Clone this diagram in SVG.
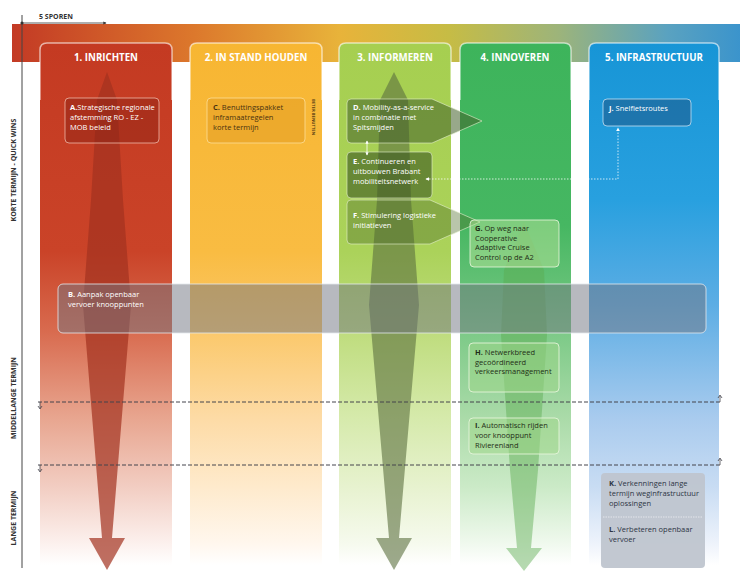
<svg xmlns="http://www.w3.org/2000/svg" width="740" height="572" viewBox="0 0 740 572">
<style>
.hdr{font-family:"Open Sans","Liberation Sans",sans-serif;font-weight:700;font-size:9.7px;fill:#fff;text-anchor:middle}
.t{font-family:"Open Sans","Liberation Sans",sans-serif;font-size:7.5px}
.w{fill:#fff}
.dk{fill:#1f2d16}
.br{fill:#4a3210}
.nv{fill:#2c3544}
.b{font-weight:700}
.ax{font-family:"Open Sans","Liberation Sans",sans-serif;font-weight:700;font-size:7px;fill:#333}
.hline{fill:none;stroke:#fff;stroke-opacity:0.6;stroke-width:1.5}
.div{stroke:#44444c;stroke-width:1;stroke-dasharray:4 2;fill:none}
</style>
<defs>
<linearGradient id="band" x1="12" y1="0" x2="740" y2="0" gradientUnits="userSpaceOnUse">
<stop offset="0" stop-color="#c33a25"/><stop offset="0.25" stop-color="#dc782c"/><stop offset="0.45" stop-color="#e8b33a"/><stop offset="0.6" stop-color="#c6bc45"/><stop offset="0.75" stop-color="#9db47a"/><stop offset="0.9" stop-color="#5aa2c0"/><stop offset="1" stop-color="#3b94cc"/>
</linearGradient>
<linearGradient id="g1" x1="0" y1="43" x2="0" y2="565" gradientUnits="userSpaceOnUse">
<stop offset="0" stop-color="#c43a22"/><stop offset="0.4" stop-color="#ca4328"/><stop offset="0.55" stop-color="#d86a4e"/><stop offset="0.72" stop-color="#e8a690"/><stop offset="0.85" stop-color="#f2cdc2"/><stop offset="0.96" stop-color="#fcf1ee"/><stop offset="1" stop-color="#fff"/>
</linearGradient>
<linearGradient id="g2" x1="0" y1="43" x2="0" y2="565" gradientUnits="userSpaceOnUse">
<stop offset="0" stop-color="#f7b632"/><stop offset="0.4" stop-color="#f9bc42"/><stop offset="0.55" stop-color="#fbc86a"/><stop offset="0.72" stop-color="#fddba6"/><stop offset="0.85" stop-color="#feeacc"/><stop offset="0.96" stop-color="#fff7ee"/><stop offset="1" stop-color="#fff"/>
</linearGradient>
<linearGradient id="g3" x1="0" y1="43" x2="0" y2="565" gradientUnits="userSpaceOnUse">
<stop offset="0" stop-color="#a6cf50"/><stop offset="0.4" stop-color="#abd25a"/><stop offset="0.55" stop-color="#bedc7c"/><stop offset="0.72" stop-color="#d6eaac"/><stop offset="0.85" stop-color="#e7f2cf"/><stop offset="0.96" stop-color="#f6faee"/><stop offset="1" stop-color="#fff"/>
</linearGradient>
<linearGradient id="g4" x1="0" y1="43" x2="0" y2="565" gradientUnits="userSpaceOnUse">
<stop offset="0" stop-color="#3db45b"/><stop offset="0.35" stop-color="#46b762"/><stop offset="0.5" stop-color="#6dc47c"/><stop offset="0.72" stop-color="#abdba9"/><stop offset="0.85" stop-color="#cbeac7"/><stop offset="0.96" stop-color="#f0f9ee"/><stop offset="1" stop-color="#fff"/>
</linearGradient>
<linearGradient id="g5" x1="0" y1="43" x2="0" y2="565" gradientUnits="userSpaceOnUse">
<stop offset="0" stop-color="#1795d6"/><stop offset="0.3" stop-color="#28a0df"/><stop offset="0.5" stop-color="#5cade4"/><stop offset="0.72" stop-color="#a9cbee"/><stop offset="0.85" stop-color="#c8dcf3"/><stop offset="0.96" stop-color="#eef3fb"/><stop offset="1" stop-color="#fff"/>
</linearGradient>
<marker id="wa" viewBox="0 0 6 6" refX="5" refY="3" markerWidth="4" markerHeight="4" orient="auto-start-reverse"><path d="M0,0 L6,3 L0,6 Z" fill="#fff"/></marker>
<marker id="ka" viewBox="0 0 6 6" refX="5" refY="3" markerWidth="4" markerHeight="4" orient="auto"><path d="M0,0 L6,3 L0,6 Z" fill="#333"/></marker>
</defs>

<rect x="0" y="0" width="740" height="572" fill="#fff"/>
<rect id="band-top" x="12" y="24" width="728" height="38" fill="url(#band)"/>

<g id="columns">
<g id="col1"><path d="M40,565 V50 Q40,43 47,43 H165 Q172,43 172,50 V565 Z" fill="url(#g1)"/><path class="hline" d="M40,100 V50 Q40,43 47,43 H165 Q172,43 172,50 V100"/><text class="hdr" x="106" y="61">1. INRICHTEN</text></g>
<g id="col2"><path d="M190,565 V50 Q190,43 197,43 H315 Q322,43 322,50 V565 Z" fill="url(#g2)"/><path class="hline" d="M190,100 V50 Q190,43 197,43 H315 Q322,43 322,50 V100"/><text class="hdr" x="256" y="61">2. IN STAND HOUDEN</text></g>
<g id="col3"><path d="M339,565 V50 Q339,43 346,43 H444 Q451,43 451,50 V565 Z" fill="url(#g3)"/><path class="hline" d="M339,100 V50 Q339,43 346,43 H444 Q451,43 451,50 V100"/><text class="hdr" x="395" y="61">3. INFORMEREN</text></g>
<g id="col4"><path d="M460,565 V50 Q460,43 467,43 H564 Q571,43 571,50 V565 Z" fill="url(#g4)"/><path class="hline" d="M460,100 V50 Q460,43 467,43 H564 Q571,43 571,50 V100"/><text class="hdr" x="515" y="61">4. INNOVEREN</text></g>
<g id="col5"><path d="M589,565 V50 Q589,43 596,43 H712 Q719,43 719,50 V565 Z" fill="url(#g5)"/><path class="hline" d="M589,100 V50 Q589,43 596,43 H712 Q719,43 719,50 V100"/><text class="hdr" x="654" y="61">5. INFRASTRUCTUUR</text></g>
</g>

<g id="big-arrows">
<path id="arrow1" d="M107,72 L117,100 L123,200 L131,305 L112,538 L125,538 L107,570 L89,538 L102,538 L83,305 L91,200 L97,100 Z" fill="#a33220" fill-opacity="0.7"/>
<path id="arrow3" d="M394,72 L408,100 L411,200 L419,305 L399,538 L412,538 L394,570 L376,538 L389,538 L369,305 L377,200 L380,100 Z" fill="#5b7040" fill-opacity="0.6"/>
<path id="arrow4" d="M524,222 L544,270 L547,335 L538,470 L531,548 L542,548 L524,571 L506,548 L517,548 L510,470 L501,335 L504,270 Z" fill="#5aaa50" fill-opacity="0.45"/>
</g>

<g id="axis">
<line x1="22" y1="15" x2="22" y2="568" stroke="#444" stroke-width="1"/>
<circle cx="22" cy="23" r="1.6" fill="#333"/>
<line x1="22" y1="23" x2="106" y2="23" stroke="#333" stroke-width="0.8" marker-end="url(#ka)"/>
<text class="ax" x="39" y="19">5 SPOREN</text>
<text class="ax" transform="translate(16,170) rotate(-90)" text-anchor="middle">KORTE TERMIJN - QUICK WINS</text>
<text class="ax" transform="translate(16,398) rotate(-90)" text-anchor="middle">MIDDELLANGE TERMIJN</text>
<text class="ax" transform="translate(16,518) rotate(-90)" text-anchor="middle">LANGE TERMIJN</text>
</g>

<g id="dividers">
<line class="div" x1="38" y1="402" x2="720" y2="402"/>
<path d="M40,402 V408 M38,406 L40,409 L42,406" stroke="#44444c" stroke-width="0.8" fill="none"/>
<path d="M720,402 V396 M718,398 L720,395 L722,398" stroke="#44444c" stroke-width="0.8" fill="none"/>
<line class="div" x1="38" y1="465" x2="720" y2="465"/>
<path d="M40,465 V471 M38,469 L40,472 L42,469" stroke="#44444c" stroke-width="0.8" fill="none"/>
<path d="M720,465 V459 M718,461 L720,458 L722,461" stroke="#44444c" stroke-width="0.8" fill="none"/>
</g>

<g id="node-A">
<rect x="65" y="98" width="94" height="45" rx="4" fill="#8a2214" fill-opacity="0.45" stroke="#f3c0b0" stroke-opacity="0.75"/>
<text class="t w" x="70" y="110"><tspan class="b">A.</tspan>Strategische regionale</text>
<text class="t w" x="70" y="120">afstemming RO - EZ -</text>
<text class="t w" x="70" y="130">MOB beleid</text>
</g>

<g id="node-C">
<rect x="207" y="98" width="98" height="45" rx="4" fill="#e09a1e" fill-opacity="0.45" stroke="#fcd98c" stroke-opacity="0.9"/>
<text class="t br" x="213" y="110"><tspan class="b">C.</tspan> Benuttingspakket</text>
<text class="t br" x="213" y="120">inframaatregelen</text>
<text class="t br" x="213" y="130">korte termijn</text>
<text transform="translate(312,99) rotate(90)" font-family="'Open Sans','Liberation Sans',sans-serif" font-weight="700" font-size="4.2" fill="#4a3210">BETER BENUTTEN</text>
</g>

<g id="node-D">
<path d="M351,99 H432 L482,121 L432,143 H351 Q347,143 347,139 V103 Q347,99 351,99 Z" fill="#44602a" fill-opacity="0.55" stroke="#e6f2cf" stroke-opacity="0.6"/>
<text class="t w" x="353" y="110"><tspan class="b">D.</tspan> Mobility-as-a-service</text>
<text class="t w" x="353" y="120">in combinatie met</text>
<text class="t w" x="353" y="130">Spitsmijden</text>
</g>

<g id="node-E">
<rect x="347" y="152" width="85" height="46" rx="4" fill="#3f5a22" fill-opacity="0.62" stroke="#e6f2cf" stroke-opacity="0.6"/>
<text class="t w" x="353" y="164"><tspan class="b">E.</tspan> Continueren en</text>
<text class="t w" x="353" y="174">uitbouwen Brabant</text>
<text class="t w" x="353" y="184">mobiliteitsnetwerk</text>
</g>

<g id="node-F">
<path d="M351,200 H430 L480,222 L430,244 H351 Q347,244 347,240 V204 Q347,200 351,200 Z" fill="#4f6e2a" fill-opacity="0.4" stroke="#e6f2cf" stroke-opacity="0.6"/>
<text class="t w" x="353" y="218"><tspan class="b">F.</tspan> Stimulering logistieke</text>
<text class="t w" x="353" y="228">initiatieven</text>
</g>

<g id="node-G">
<rect x="470" y="220" width="89" height="47" rx="4" fill="#b8e39a" fill-opacity="0.5" stroke="#e8f6dc" stroke-opacity="0.8"/>
<text class="t dk" x="475" y="231"><tspan class="b">G.</tspan> Op weg naar</text>
<text class="t dk" x="475" y="240.5">Cooperative</text>
<text class="t dk" x="475" y="250">Adaptive Cruise</text>
<text class="t dk" x="475" y="259.5">Control op de A2</text>
</g>

<g id="node-J">
<rect x="603" y="99" width="88" height="27" rx="4" fill="#1d4a75" fill-opacity="0.45" stroke="#cfe6f6" stroke-opacity="0.75"/>
<text class="t w" x="609" y="111"><tspan class="b">J.</tspan> Snelfietsroutes</text>
</g>

<g id="node-B">
<rect x="58" y="284" width="648" height="49" rx="5" fill="#6f7480" fill-opacity="0.5" stroke="#e4e8ee" stroke-opacity="0.8"/>
<text class="t w" x="68" y="297"><tspan class="b">B.</tspan> Aanpak openbaar</text>
<text class="t w" x="68" y="307">vervoer knooppunten</text>
</g>

<g id="node-H">
<rect x="469" y="343" width="90" height="49" rx="4" fill="#9ed688" fill-opacity="0.5" stroke="#e8f6dc" stroke-opacity="0.85"/>
<text class="t dk" x="475" y="355"><tspan class="b">H.</tspan> Netwerkbreed</text>
<text class="t dk" x="475" y="364.5">gecoördineerd</text>
<text class="t dk" x="475" y="374">verkeersmanagement</text>
</g>

<g id="node-I">
<rect x="469" y="418" width="90" height="36" rx="4" fill="#9ed688" fill-opacity="0.5" stroke="#e8f6dc" stroke-opacity="0.85"/>
<text class="t dk" x="475" y="428"><tspan class="b">I.</tspan> Automatisch rijden</text>
<text class="t dk" x="475" y="438">voor knooppunt</text>
<text class="t dk" x="475" y="448">Rivierenland</text>
</g>

<g id="node-KL">
<rect x="601" y="473" width="104" height="95" rx="4" fill="#bfc5cf" fill-opacity="0.95"/>
<line x1="603" y1="517" x2="703" y2="517" stroke="#fff" stroke-opacity="0.7" stroke-width="0.8" stroke-dasharray="1.5 1"/>
<text class="t nv" x="609" y="486"><tspan class="b">K.</tspan> Verkenningen lange</text>
<text class="t nv" x="609" y="496">termijn weginfrastructuur</text>
<text class="t nv" x="609" y="506">oplossingen</text>
<text class="t nv" x="609" y="532"><tspan class="b">L.</tspan> Verbeteren openbaar</text>
<text class="t nv" x="609" y="542">vervoer</text>
</g>

<g id="connectors">
<line x1="367" y1="141" x2="367" y2="155" stroke="#fff" stroke-width="0.8" marker-start="url(#wa)" marker-end="url(#wa)"/>
<path d="M426,179 H618 V128" fill="none" stroke="#fff" stroke-opacity="0.85" stroke-width="0.9" stroke-dasharray="1.5 1.5" marker-start="url(#wa)" marker-end="url(#wa)"/>
</g>
</svg>
